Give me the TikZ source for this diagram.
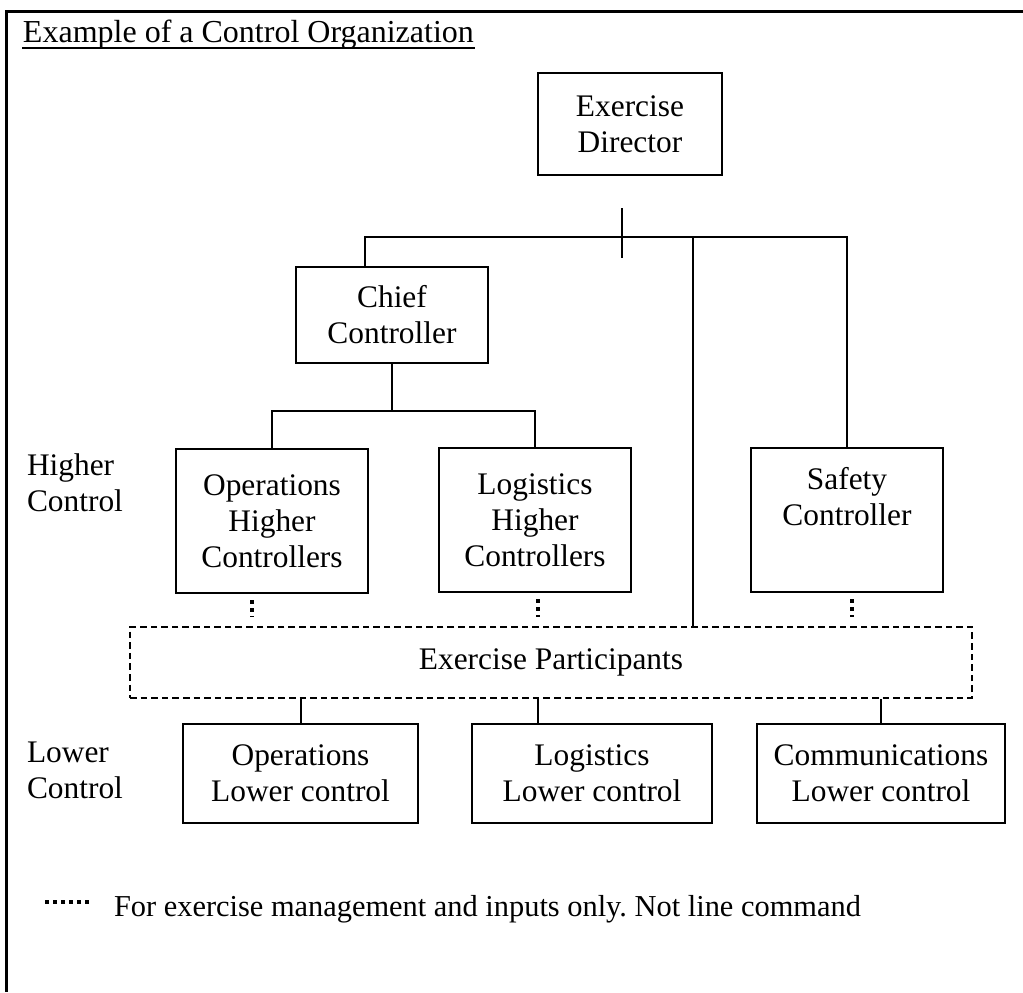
\documentclass[tikz,border=0pt]{standalone}
\usepackage{fontspec}
\setmainfont{Liberation Serif}
\tikzset{orgchart/.style={x=0.5pt,y=-0.5pt,line width=1pt,font=\fontsize{15.7}{18}\selectfont},
  unit/.style={draw,align=center,inner sep=0pt},
  higher/.style={unit,minimum width=96pt,minimum height=72pt},
  lower/.style={unit,minimum height=49.5pt},
  players/.style={draw,dash pattern=on 3.3pt off 2pt,minimum width=421pt,minimum height=35.5pt},
  mgmt/.style={line width=1.75pt,dash pattern=on 2pt off 2pt}}

\begin{document}
\begin{tikzpicture}[orgchart]
    \useasboundingbox (0,0) rectangle (1023,992);
    \draw[line width=1.5pt] (1023,11) -- (6,11) -- (6,992);   % frame
    \node[anchor=base west,inner sep=0pt,font=\fontsize{16}{18}\selectfont] (title) at (22,42) {Example of a Control Organization};
    \draw[line width=0.8pt] ([yshift=-3pt]title.base west) -- ([yshift=-3pt]title.base east);

    \node[unit,minimum width=92pt,minimum height=51pt] (dir) at (630,124) {Exercise\\Director};
    \node[unit,minimum width=96pt,minimum height=48pt] (chief) at (392,315) {Chief\\Controller};
    \node[higher] (opsH) at (272,521) {Operations\\Higher\\Controllers};
    \node[higher] (logH) at (535,520) {Logistics\\Higher\\Controllers};
    \node[higher] (safety) at (847,520) {Safety\\Controller\\\strut};
    \node[players] (part) at (551,662.5) {Exercise Participants};
    \node[lower,minimum width=117.5pt] (opsL) at (300.5,773.5) {Operations\\Lower control};
    \node[lower,minimum width=120pt] (logL) at (592,773.5) {Logistics\\Lower control};
    \node[lower,minimum width=124pt] (comL) at (881,773.5) {Communications\\Lower control};

    \node[anchor=west,align=left,inner sep=0pt] (hiTag) at (26,483) {Higher\\Control};
    \node[anchor=west,align=left,inner sep=0pt] (loTag) at (26,770) {Lower\\Control};

    % line command
    \coordinate (busL) at (365,237);
    \coordinate (busM) at (693,237);
    \coordinate (busR) at (847,237);
    \coordinate (dirTick) at (622,237);
    \draw (chief.north -| busL) -- (busL) -- (busR) -- (safety.north);
    \draw (busM) -- (busM |- part.north);
    \draw ([yshift=14.5pt]dirTick) -- ([yshift=-10.5pt]dirTick);
    \coordinate (chiefBus) at (392,411);
    \draw (chief.south) -- (chiefBus);
    \draw (opsH.north) -- (opsH.north |- chiefBus) -- (logH.north |- chiefBus) -- (logH.north);
    \draw (part.south -| opsL) -- (opsL.north);
    \draw ([xshift=1.5pt]part.south -| logH.south) -- ([xshift=1.5pt]logL.north -| logH.south);
    \draw (part.south -| comL) -- (comL.north);

    % management and inputs only
    \draw[mgmt,shorten <=3pt,shorten >=4.5pt] ([xshift=-10pt]opsH.south) -- ([xshift=-10pt]opsH.south |- part.north);
    \draw[mgmt,shorten <=3pt,shorten >=4.5pt] ([xshift=1.5pt]logH.south) -- ([xshift=1.5pt]logH.south |- part.north);
    \draw[mgmt,shorten <=3pt,shorten >=4.5pt] ([xshift=2.5pt]safety.south) -- ([xshift=2.5pt]safety.south |- part.north);

    \node[anchor=base west,inner sep=0pt,font=\fontsize{15.2}{18}\selectfont\frenchspacing] (note) at (113,916) {For exercise management and inputs only. Not line command};
    \draw[mgmt] ([xshift=-12pt,yshift=7pt]note.base west) -- ++(-22pt,0);
  \end{tikzpicture}
\end{document}
